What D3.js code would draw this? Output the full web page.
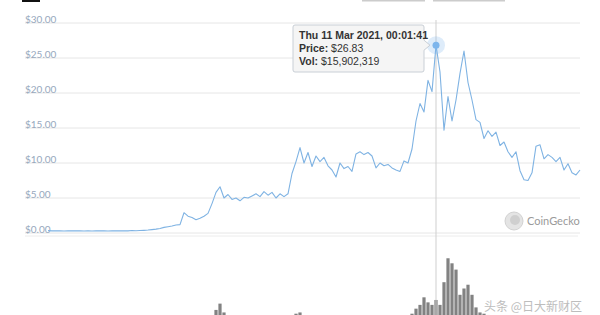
<!DOCTYPE html>
<html>
<head>
<meta charset="utf-8">
<script src="https://cdn.jsdelivr.net/npm/d3@7"></script>
<style>
  body { margin: 0; background: #fff; }
  svg { display: block; font-family: Lato, "Open Sans", sans-serif; }
  .grid line { stroke: #e6e6e6; }
  .ylabel { fill: #97a8bd; font-size: 10px; }
</style>
</head>
<body>
<script>
var width = 600,
    height = 315;

// price in USD, one sample every 4 px step (index)
var price = [
  0.34, 0.31, 0.32, 0.30, 0.29, 0.31, 0.30, 0.32, 0.30, 0.29,
  0.30, 0.28, 0.30, 0.32, 0.30, 0.29, 0.30, 0.31, 0.32, 0.30,
  0.31, 0.35, 0.33, 0.35, 0.38, 0.42, 0.48, 0.55, 0.65, 0.80,
  0.90, 1.00, 1.15, 1.20, 2.90, 2.40, 2.20, 1.90, 2.10, 2.40,
  2.80, 4.20, 5.80, 6.60, 5.00, 5.50, 4.80, 5.00, 4.60, 5.10,
  5.00, 5.30, 5.60, 5.20, 5.90, 5.40, 5.80, 5.00, 5.60, 5.20,
  5.60, 8.50, 10.2, 12.2, 10.0, 11.5, 9.50, 11.0, 10.2, 10.8,
  9.60, 9.00, 8.00, 10.0, 9.20, 9.50, 8.80, 11.3, 11.6, 11.2,
  11.5, 11.0, 9.30, 10.0, 9.60, 9.80, 9.30, 9.00, 8.80, 10.3,
  10.0, 12.0, 16.0, 18.5, 17.3, 21.8, 20.2, 26.83, 23.0, 14.7,
  19.5, 16.0, 19.0, 22.8, 26.0, 21.5, 19.0, 16.2, 15.8, 13.5,
  14.6, 13.8, 14.4, 12.5, 13.0, 11.6, 10.8, 11.6, 8.90, 7.60,
  7.50, 8.60, 12.4, 12.6, 10.6, 11.2, 10.8, 10.2, 10.8, 9.00,
  9.90, 8.60, 8.30, 9.00
];

// volume in millions USD, same steps
var volume = [
  0.1, 0.1, 0.1, 0.1, 0.1, 0.1, 0.1, 0.1, 0.1, 0.1,
  0.1, 0.1, 0.1, 0.1, 0.1, 0.1, 0.1, 0.1, 0.1, 0.1,
  0.1, 0.1, 0.1, 0.1, 0.2, 0.2, 0.2, 0.3, 0.3, 0.4,
  0.4, 0.5, 0.6, 0.6, 1.5, 1.0, 0.8, 0.7, 0.8, 1.0,
  1.5, 3.0, 8.0, 13.0, 6.0, 3.0, 2.0, 1.5, 1.2, 1.5,
  1.2, 1.4, 1.8, 1.3, 1.6, 1.2, 1.5, 1.1, 1.3, 1.2,
  1.5, 3.0, 5.0, 6.0, 3.0, 2.5, 2.0, 2.4, 1.8, 2.0,
  1.6, 1.5, 1.8, 2.0, 1.6, 1.5, 1.4, 2.2, 2.0, 1.8,
  1.6, 1.5, 1.6, 1.4, 1.3, 1.2, 1.3, 1.4, 1.5, 2.0,
  3.0, 5.0, 9.0, 12.0, 18.0, 14.0, 12.0, 15.9, 12.0, 30.0,
  49.0, 45.0, 40.0, 20.0, 25.0, 28.0, 20.0, 10.0, 6.0, 5.0,
  4.0, 3.5, 3.0, 3.0, 2.5, 2.5, 2.0, 2.2, 3.0, 3.5,
  2.5, 2.0, 3.0, 2.5, 2.0, 1.8, 1.6, 1.5, 1.6, 1.4,
  1.3, 1.2, 1.2, 1.1
];

var priceTicks = [0, 5, 10, 15, 20, 25, 30];
var hoverIndex = 97;
var tooltipLines = ["Thu 11 Mar 2021, 00:01:41", "Price:", "$26.83", "Vol:", "$15,902,319"];

var x = d3.scaleLinear().domain([0, price.length - 1]).range([48, 580]);
var y = d3.scaleLinear().domain([0, 30]).range([233, 23]);
var yv = d3.scaleLinear().domain([0, 50]).range([320, 257]);

var svg = d3.select("body").append("svg")
  .attr("width", width)
  .attr("height", height);

// bits of the cut-off toolbar on top
svg.append("rect").attr("x", 22).attr("y", 0).attr("width", 18).attr("height", 2).attr("fill", "#111");
svg.append("rect").attr("x", 362).attr("y", 0).attr("width", 63).attr("height", 1.5).attr("fill", "#ccc");
svg.append("rect").attr("x", 433).attr("y", 0).attr("width", 72).attr("height", 1.5).attr("fill", "#ccc");

var grid = svg.append("g").attr("class", "grid");
grid.selectAll("line")
  .data(priceTicks)
  .enter().append("line")
    .attr("x1", 25).attr("x2", 580)
    .attr("y1", function(d) { return y(d); })
    .attr("y2", function(d) { return y(d); });

svg.append("line")
  .attr("x1", 25).attr("x2", 578)
  .attr("y1", 236).attr("y2", 236)
  .attr("stroke", "#ececec");

svg.selectAll(".ylabel")
  .data(priceTicks)
  .enter().append("text")
    .attr("class", "ylabel")
    .attr("x", 25)
    .attr("y", function(d) { return y(d) - 0.5; })
    .text(function(d) { return "$" + d3.format(".2f")(d); });

// watermark
var wm = svg.append("g").attr("transform", "translate(514,221)");
wm.append("circle").attr("r", 9).attr("fill", "#e4e4e4").attr("stroke", "#d2d2d2");
wm.append("circle").attr("cx", 1).attr("cy", -1).attr("r", 5).attr("fill", "#cfcfcf");
wm.append("text").attr("x", 13).attr("y", 4)
  .attr("fill", "#9a9a9a").attr("font-size", 11).text("CoinGecko");

// volume bars
svg.append("g")
  .selectAll("rect")
  .data(volume)
  .enter().append("rect")
    .attr("x", function(d, i) { return x(i) - 1.6; })
    .attr("width", 3.2)
    .attr("y", function(d) { return yv(d); })
    .attr("height", function(d) { return yv(0) - yv(d); })
    .attr("fill", "#828282");

// crosshair
svg.append("line")
  .attr("x1", x(hoverIndex)).attr("x2", x(hoverIndex))
  .attr("y1", 20).attr("y2", height)
  .attr("stroke", "#cfcfcf");

var line = d3.line()
  .x(function(d, i) { return x(i); })
  .y(function(d) { return y(d); });

svg.append("path")
  .datum(price)
  .attr("fill", "none")
  .attr("stroke", "#7fb3e3")
  .attr("stroke-width", 1.1)
  .attr("stroke-linejoin", "round")
  .attr("d", line);

// hover marker
svg.append("circle")
  .attr("cx", x(hoverIndex)).attr("cy", y(price[hoverIndex]))
  .attr("r", 9).attr("fill", "#7cb5ec").attr("opacity", 0.25);
svg.append("circle")
  .attr("cx", x(hoverIndex)).attr("cy", y(price[hoverIndex]))
  .attr("r", 3.5).attr("fill", "#7cb5ec");

// tooltip
var tipX = 293, tipY = 25, tipW = 131, tipH = 47;
var ty = y(price[hoverIndex]);
svg.append("path")
  .attr("d", "M" + tipX + "," + (tipY + 2) + "q0,-2 2,-2h" + (tipW - 4) + "q2,0 2,2v" + (ty - tipY - 7) +
    "l6,5l-6,5v" + (tipY + tipH - ty - 7) + "q0,2 -2,2h" + -(tipW - 4) + "q-2,0 -2,-2z")
  .attr("fill", "#f5f5f5")
  .attr("stroke", "#c9cfd6");

var tip = svg.append("g").attr("font-family", "Liberation Sans, Arial, sans-serif")
  .attr("font-size", 10.5).attr("fill", "#333");
tip.append("text").attr("x", tipX + 6).attr("y", tipY + 14)
  .attr("font-weight", "bold").text(tooltipLines[0]);
var t2 = tip.append("text").attr("x", tipX + 6).attr("y", tipY + 27);
t2.append("tspan").attr("font-weight", "bold").text(tooltipLines[1] + " ");
t2.append("tspan").text(tooltipLines[2]);
var t3 = tip.append("text").attr("x", tipX + 6).attr("y", tipY + 40);
t3.append("tspan").attr("font-weight", "bold").text(tooltipLines[3] + " ");
t3.append("tspan").text(tooltipLines[4]);

// source watermark at the bottom
svg.append("text")
  .attr("x", 484).attr("y", 311)
  .attr("font-family", "Noto Sans CJK SC")
  .attr("font-size", 12)
  .attr("fill", "#bdbdbd")
  .text("头条 @日大新财区");
</script>
</body>
</html>
